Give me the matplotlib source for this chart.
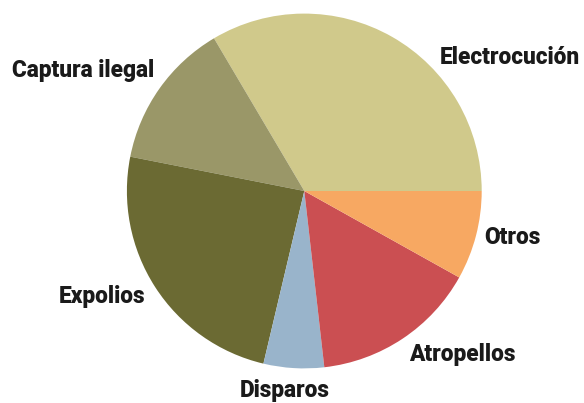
import matplotlib
matplotlib.use("Agg")
import matplotlib.pyplot as plt

categories = ["Electrocución", "Captura ilegal", "Expolios", "Disparos", "Atropellos", "Otros"]
values = [33.5, 13.4, 24.4, 5.5, 15.1, 8.1]
colors = ["#D0C98B", "#9A9768", "#6B6A33", "#99B4CB", "#CB4F52", "#F7A862"]

# label anchor points in figure pixels (x from left, y from top)
label_pos = {
    "Electrocución": (510, 57),
    "Captura ilegal": (83, 70),
    "Expolios": (102, 296),
    "Disparos": (285, 390),
    "Atropellos": (462, 354),
    "Otros": (512, 238),
}

W, H = 584, 403
fig = plt.figure(figsize=(W / 100, H / 100), dpi=100)
ax = fig.add_axes([0, 0, 1, 1])

ax.pie(values, colors=colors, startangle=0, counterclock=True,
       center=(304.3, H - 191), radius=177.4, frame=True,
       wedgeprops=dict(linewidth=0))
ax.set_xlim(0, W)
ax.set_ylim(0, H)
ax.set_aspect("equal")
ax.axis("off")

for cat in categories:
    x, y = label_pos[cat]
    ax.text(x, H - y, cat, ha="center", va="center", fontsize=16.3,
            fontweight=900, color="#1a1a1a", family=["Roboto", "DejaVu Sans"],
            fontstretch="condensed")

fig.savefig("out.png", dpi=100)
